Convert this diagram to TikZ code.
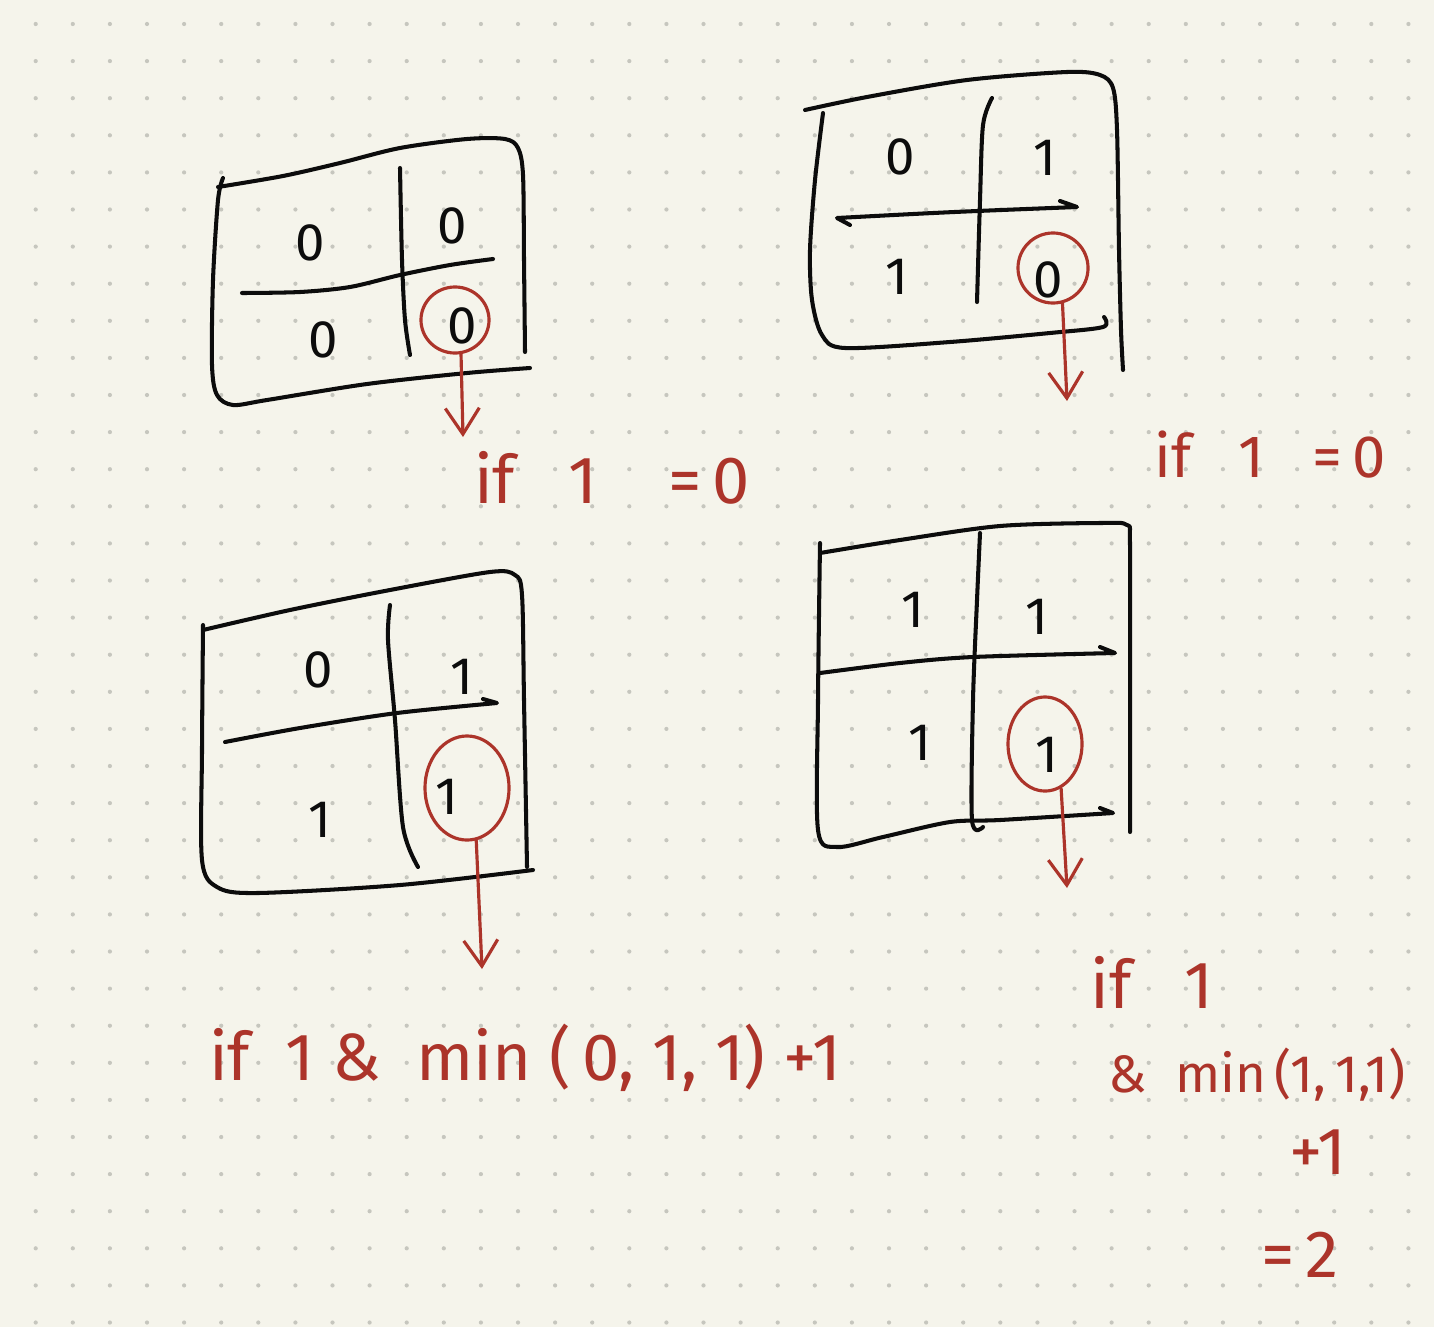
\documentclass[tikz,border=0pt]{standalone}
\usepackage{fontspec}
\setmainfont{Fira Sans}
\usetikzlibrary{arrows.meta,shapes.geometric}
\definecolor{paper}{RGB}{245,244,235}
\definecolor{dotc}{RGB}{198,198,190}
\definecolor{pen}{RGB}{12,12,12}
\definecolor{penred}{RGB}{172,52,42}
\tikzset{%
  sketchline/.style = { draw=pen, line width=1.15pt, line cap=round, line join=round },
  cell/.style = { text=pen, font=\fontsize{15}{18}\selectfont, inner sep=0pt },
  ring/.style = { ellipse, draw=penred, line width=0.9pt, inner sep=0pt },
  pick/.style = { draw=penred, line width=0.9pt, line cap=round, -{Straight Barb[length=2.6mm,width=3.4mm]} },
  note/.style = { text=penred, font=\fontsize{19}{23}\selectfont, inner sep=0pt }
}

\begin{document}
\begin{tikzpicture}[x=0.01cm, y=-0.01cm]

  % paper
  \fill[paper] (0,0) rectangle (1434,1327);
  \useasboundingbox (0,0) rectangle (1434,1327);

  \foreach \i in {0,...,37} {
    \foreach \j in {0,...,35} {
      \fill[dotc] (35.7+37.1*\i, 24+37.1*\j) circle (0.6pt);
    }
  }

  % GRID 1 (top left)
  \draw[sketchline] plot[smooth] coordinates {(218,187) (283,176) (340,163) (400,148) (467,139) (505,139) (518,148) (523,175) (524,260) (525,352)};
  \draw[sketchline] plot[smooth] coordinates {(530,368) (467,373) (367,384) (267,400) (233,405) (217,395) (212,365) (213,280) (218,200) (223,178)};
  \draw[sketchline] plot[smooth] coordinates {(400,168) (402,260) (405,320) (410,355)};
  \draw[sketchline] plot[smooth] coordinates {(242,293) (300,292) (350,287) (400,275) (450,265) (493,259)};

  \node[cell] (g1a) at (310,243) {0};
  \node[cell] (g1b) at (452,226) {0};
  \node[cell] (g1c) at (323,340) {0};
  \node[cell] (g1d) at (462,326) {0};

  \node[ring, minimum width=0.68cm, minimum height=0.66cm] (ring1) at (455,320) {};
  \coordinate (down1) at (463,437);
  \draw[pick] (ring1.-80) -- (down1);

  \node[note] (if1) at (612,478) {if\ \ \ 1\ \ \ \ =\,0};

  % GRID 2 (top right)
  \draw[sketchline] plot[smooth] coordinates {(805,110) (867,97) (967,80) (1067,72) (1100,75) (1113,88) (1117,130) (1119,250) (1121,330) (1123,370)};
  \draw[sketchline] plot[smooth] coordinates {(823,113) (815,180) (810,250) (812,300) (822,335) (845,348) (950,342) (1050,333) (1103,327) (1104,317)};
  \draw[sketchline] plot[smooth] coordinates {(992,98) (983,125) (980,200) (977,302)};
  \draw[sketchline] (850,225) -- (837,218) .. controls (950,212) .. (1077,207) -- (1060,201);

  \node[cell] (g2a) at (900,157) {0};
  \node[cell] (g2b) at (1045,158) {1};
  \node[cell] (g2c) at (897,277) {1};
  \node[cell] (g2d) at (1048,280) {0};

  \node[ring, minimum width=0.70cm, minimum height=0.70cm] (ring2) at (1053,268) {};
  \coordinate (down2) at (1067,401);
  \draw[pick] (ring2.-75) -- (down2);

  \node[note, font=\fontsize{17}{20}\selectfont] (if2) at (1270,455) {if\ \ \ 1\ \ \ =\,0};

  % GRID 3 (bottom left)
  \draw[sketchline] plot[smooth] coordinates {(203,630) (290,610) (390,590) (490,572) (515,575) (522,595) (524,700) (527,867)};
  \draw[sketchline] plot[smooth] coordinates {(203,625) (202,750) (202,860) (217,887) (257,893) (400,885) (533,870)};
  \draw[sketchline] plot[smooth] coordinates {(390,605) (388,640) (395,720) (403,827) (418,867)};
  \draw[sketchline] plot[smooth] coordinates {(225,742) (300,728) (397,713) (497,703)} -- (483,699);

  \node[cell] (g3a) at (318,670) {0};
  \node[cell] (g3b) at (462,677) {1};
  \node[cell] (g3c) at (320,820) {1};
  \node[cell] (g3d) at (447,797) {1};

  \node[ring, minimum width=0.84cm, minimum height=1.04cm] (ring3) at (467,788) {};
  \coordinate (down3) at (482,969);
  \draw[pick] (ring3.-80) -- (down3);

  \node[note] (if3) at (525,1058) {if\ \ 1\ \&\ \ min\ (\,0,\ 1,\ 1)\ +1};

  % GRID 4 (bottom right)
  \draw[sketchline] plot[smooth] coordinates {(820,553) (900,540) (1000,526) (1100,523) (1127,525) (1130,545) (1130,700) (1130,832)};
  \draw[sketchline] plot[smooth] coordinates {(820,543) (818,700) (818,830) (837,847) (883,837) (950,822) (1000,820) (1113,813)} -- (1100,808);
  \draw[sketchline] plot[smooth] coordinates {(980,533) (977,600) (973,700) (972,820) (983,827)};
  \draw[sketchline] plot[smooth] coordinates {(820,673) (900,663) (973,657) (1115,653)} -- (1100,647);

  \node[cell] (g4a) at (913,610) {1};
  \node[cell] (g4b) at (1037,617) {1};
  \node[cell] (g4c) at (920,743) {1};
  \node[cell] (g4d) at (1047,755) {1};

  \node[ring, minimum width=0.74cm, minimum height=0.94cm] (ring4) at (1045,744) {};
  \coordinate (down4) at (1067,888);
  \draw[pick] (ring4.-70) -- (down4);

  \node[note] (if4) at (1152,982) {if\ \ \ 1};
  \node[note, font=\fontsize{15}{18}\selectfont] (min4) at (1257,1075) {\&\ \ min\,(1,\,1,1)};
  \node[note] (plus4) at (1318,1152) {+1};
  \node[note] (eq4) at (1300,1255) {=\,2};

\end{tikzpicture}
\end{document}
